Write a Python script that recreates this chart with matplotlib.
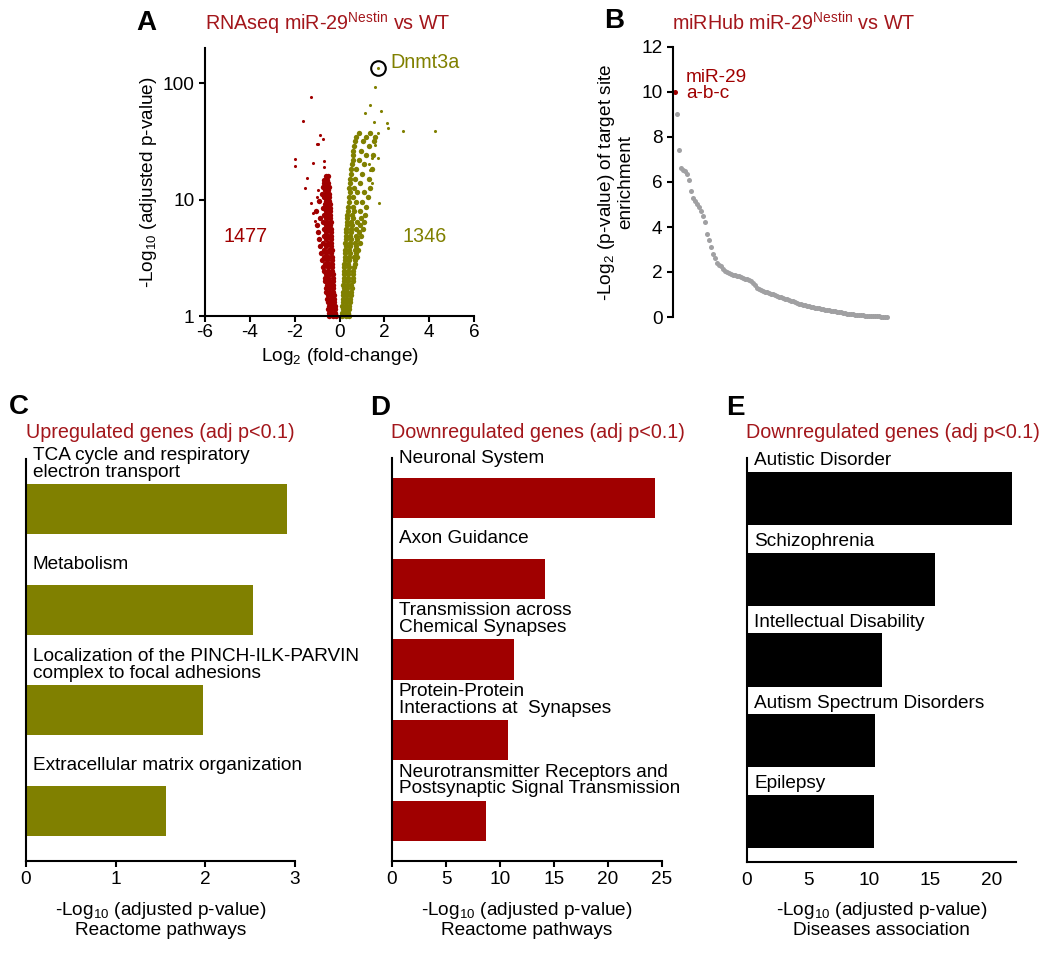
"""Multi-panel figure: volcano plot, miRHub enrichment and pathway bar charts."""

import matplotlib

matplotlib.use("Agg")

import matplotlib.pyplot as plt
import numpy as np

plt.rcParams["font.family"] = ["Liberation Sans", "DejaVu Sans"]
plt.rcParams["mathtext.fontset"] = "custom"
plt.rcParams["mathtext.rm"] = "Liberation Sans"
plt.rcParams["mathtext.it"] = "Liberation Sans:italic"
plt.rcParams["axes.linewidth"] = 1.5
plt.rcParams["axes.unicode_minus"] = False

RED = "#a00000"
OLIVE = "#808000"
GRAY = "#a0a0a2"
TITLE_RED = "#a3161b"

# ---- panel A: volcano plot, dense rows (y, [x values])
RED_ROWS = [
    (1.00, [-0.45, -0.30, -0.17]), (1.07, [-0.48, -0.33, -0.20]),
    (1.15, [-0.50, -0.36, -0.22]), (1.23, [-0.47, -0.32, -0.20]),
    (1.32, [-0.52, -0.38, -0.23]), (1.41, [-0.55, -0.40, -0.25]),
    (1.51, [-0.50, -0.36, -0.24]), (1.62, [-0.58, -0.42, -0.27]),
    (1.74, [-0.60, -0.45, -0.28]), (1.86, [-0.55, -0.40, -0.27]),
    (2.00, [-0.63, -0.47, -0.30]), (2.14, [-0.66, -0.50, -0.30]),
    (2.29, [-0.60, -0.44, -0.31]), (2.45, [-0.70, -0.52, -0.33]),
    (2.63, [-0.72, -0.50, -0.32]), (2.82, [-0.65, -0.46, -0.33]),
    (3.02, [-0.78, -0.55, -0.35]), (3.24, [-0.70, -0.50, -0.34]),
    (3.47, [-0.82, -0.58, -0.36]), (3.72, [-0.68, -0.48, -0.35]),
    (3.98, [-0.85, -0.60, -0.38]), (4.27, [-0.72, -0.52, -0.37]),
    (4.57, [-0.90, -0.62, -0.40]), (4.90, [-0.70, -0.50, -0.38]),
    (5.25, [-0.95, -0.60, -0.40]), (5.62, [-0.68, -0.52, -0.39]),
    (6.03, [-1.00, -0.62, -0.42]), (6.46, [-0.72, -0.55, -0.40]),
    (6.92, [-0.85, -0.60, -0.43]), (7.41, [-0.68, -0.50, -0.41]),
    (7.94, [-1.05, -0.62, -0.44]), (8.51, [-0.75, -0.55, -0.42]),
    (9.12, [-0.65, -0.50, -0.43]), (9.77, [-0.90, -0.60, -0.45]),
    (10.5, [-0.70, -0.55, -0.45]), (11.2, [-0.80, -0.60, -0.47]),
    (12.0, [-0.65, -0.52]), (12.9, [-0.75, -0.58, -0.48]),
    (13.8, [-0.68, -0.52]), (14.8, [-0.70, -0.55]), (15.8, [-0.62, -0.50]),
]
RED_SPARSE_X = [-1.27, -1.62, -0.87, -0.75, -1.02, -0.95, -2.0, -2.0, -1.17,
                -0.68, -0.69, -1.44, -1.54, -1.27, -1.17, -1.09, -0.95, -1.0]
RED_SPARSE_Y = [76, 47, 36, 33, 30, 30, 22.3, 19.5, 20.5,
                21.5, 19, 15.2, 12.5, 9.3, 7.6, 6.6, 12.0, 10.5]

OLIVE_ROWS = [
    (1.00, [0.12, 0.27, 0.42]), (1.07, [0.10, 0.25, 0.40]),
    (1.15, [0.14, 0.29, 0.44]), (1.23, [0.12, 0.27, 0.43]),
    (1.32, [0.16, 0.31, 0.46]), (1.41, [0.14, 0.30, 0.48]),
    (1.51, [0.17, 0.33, 0.50]), (1.62, [0.16, 0.32, 0.52]),
    (1.74, [0.18, 0.35, 0.55]), (1.86, [0.17, 0.34, 0.53]),
    (2.00, [0.20, 0.37, 0.58]), (2.14, [0.19, 0.36, 0.60]),
    (2.29, [0.21, 0.39, 0.62]), (2.45, [0.20, 0.38, 0.60]),
    (2.63, [0.22, 0.41, 0.66]), (2.82, [0.21, 0.40, 0.68]),
    (3.02, [0.24, 0.43, 0.70]), (3.24, [0.23, 0.42, 0.65, 0.78]),
    (3.47, [0.25, 0.45, 0.72]), (3.72, [0.24, 0.44, 0.68, 0.84]),
    (3.98, [0.27, 0.47, 0.75]), (4.27, [0.26, 0.46, 0.70, 0.90]),
    (4.57, [0.28, 0.50, 0.80]), (4.90, [0.28, 0.48, 0.72, 0.98]),
    (5.25, [0.30, 0.52, 0.85]), (5.62, [0.30, 0.50, 0.75, 1.05]),
    (6.03, [0.32, 0.55, 0.90]), (6.46, [0.32, 0.52, 0.78, 1.10]),
    (6.92, [0.35, 0.60, 0.95]), (7.41, [0.35, 0.55, 1.15]),
    (7.94, [0.38, 0.65, 0.90]), (8.70, [0.38, 0.60, 1.20]),
    (9.50, [0.42, 0.75, 1.00]), (10.5, [0.42, 0.62, 1.25]),
    (11.5, [0.45, 0.80, 1.10]), (12.6, [0.44, 0.65, 1.35]),
    (13.8, [0.47, 0.90]), (15.1, [0.48, 0.70, 1.30]),
    (16.6, [0.50, 1.00]), (18.2, [0.52, 0.75, 1.45]),
    (20.0, [0.55, 1.10]), (21.9, [0.58, 0.85]),
    (24.0, [0.60, 1.20, 1.50]), (26.3, [0.62, 0.95]),
    (28.8, [0.65, 1.30]), (31.6, [0.70, 1.05, 1.55]),
    (34.7, [0.75, 1.20, 1.60]), (37.2, [0.85, 1.35]),
]
OLIVE_SPARSE_X = [1.58, 1.36, 1.84, 1.14, 1.55, 2.10, 2.18, 2.85, 4.26, 1.70,
                  1.58, 1.44, 1.70, 1.44, 1.75, 1.30, 1.35]
OLIVE_SPARSE_Y = [93, 65, 57, 55.6, 46, 45, 41, 39, 39, 37,
                  29.4, 22.6, 22.6, 13.8, 9.3, 20, 18]
DNMT3A = (1.70, 135)
N_DOWN, N_UP = "1477", "1346"

# ---- panel B: miRHub ranking (rank 1 = miR-29 a-b-c)
MIR29_SCORE = 10.0
OTHER_SCORES = [
    9.0, 7.4, 6.6, 6.55, 6.5, 6.35, 6.1, 5.6, 5.3, 5.15, 5.0, 4.9, 4.7, 4.5,
    4.2, 3.7, 3.4, 3.1, 2.8, 2.6, 2.4, 2.3, 2.25, 2.15, 2.05, 2.0, 1.95, 1.9,
    1.88, 1.85, 1.82, 1.8, 1.77, 1.74, 1.7, 1.67, 1.64, 1.6, 1.5, 1.4, 1.3,
    1.25, 1.2, 1.17, 1.13, 1.1, 1.07, 1.04, 1.0, 0.97, 0.94, 0.91, 0.88, 0.85,
    0.82, 0.8, 0.77, 0.73, 0.7, 0.66, 0.62, 0.59, 0.57, 0.55, 0.52, 0.5, 0.48,
    0.46, 0.44, 0.42, 0.4, 0.38, 0.37, 0.35, 0.33, 0.31, 0.29, 0.28, 0.26,
    0.25, 0.23, 0.22, 0.2, 0.18, 0.17, 0.15, 0.14, 0.13, 0.12, 0.11, 0.1,
    0.09, 0.08, 0.07, 0.06, 0.05, 0.05, 0.04, 0.04, 0.03, 0.03, 0.03, 0.02,
    0.02, 0.02, 0.02,
]

# ---- panels C-E: enrichment bars
UP_PATHWAYS = ["TCA cycle and respiratory\nelectron transport", "Metabolism",
               "Localization of the PINCH-ILK-PARVIN\ncomplex to focal adhesions",
               "Extracellular matrix organization"]
UP_VALUES = [2.91, 2.53, 1.97, 1.56]

DOWN_PATHWAYS = ["Neuronal System", "Axon Guidance",
                 "Transmission across\nChemical Synapses",
                 "Protein-Protein\nInteractions at  Synapses",
                 "Neurotransmitter Receptors and\nPostsynaptic Signal Transmission"]
DOWN_VALUES = [24.35, 14.2, 11.3, 10.75, 8.7]

DISEASES = ["Autistic Disorder", "Schizophrenia", "Intellectual Disability",
            "Autism Spectrum Disorders", "Epilepsy"]
DISEASE_VALUES = [21.7, 15.35, 11.0, 10.5, 10.4]

W, H = 1050, 955
FS = 13.7


def px_axes(fig, x0, y0, x1, y1):
    """Add axes from pixel box (top-left origin)."""
    return fig.add_axes([x0 / W, 1 - y1 / H, (x1 - x0) / W, (y1 - y0) / H])


def fig_text(fig, x, y, s, **kw):
    fig.text(x / W, 1 - y / H, s, **kw)


def style_axes(ax):
    for side in ("top", "right"):
        ax.spines[side].set_visible(False)
    ax.tick_params(labelsize=FS, width=1.5, length=4)


def flatten(rows):
    xs, ys = [], []
    for y, row in rows:
        xs.extend(row)
        ys.extend([y] * len(row))
    return np.array(xs), np.array(ys)


def bar_panel(fig, box, labels, values, color, height, xmax, ticks,
              text_offset, xlabel, show_ticks=True):
    ax = px_axes(fig, *box)
    style_axes(ax)
    pos = np.arange(len(labels))
    ax.barh(pos, values, height=height, color=color)
    ax.set_ylim(len(labels) - 0.5, -0.5)
    ax.set_xlim(0, xmax)
    ax.set_yticks([])
    ax.set_xticks(ticks)
    if not show_ticks:
        ax.tick_params(axis="x", length=0, pad=7)
    for p, lab in zip(pos, labels):
        ax.annotate(lab, xy=(0, p - height / 2), xytext=(7, text_offset),
                    textcoords="offset pixels", ha="left", va="center",
                    fontsize=FS, linespacing=0.98, annotation_clip=False)
    ax.set_xlabel(xlabel, fontsize=FS, labelpad=8, linespacing=1.12)
    return ax


def main():
    fig = plt.figure(figsize=(W / 100, H / 100), dpi=100)

    # ---------------- A
    ax = px_axes(fig, 205, 48, 474, 316)
    style_axes(ax)
    rx, ry = flatten(RED_ROWS)
    gx, gy = flatten(OLIVE_ROWS)
    ax.scatter(rx, ry, s=15, color=RED, linewidths=0, clip_on=False)
    ax.scatter(gx, gy, s=15, color=OLIVE, linewidths=0, clip_on=False)
    ax.scatter(RED_SPARSE_X, RED_SPARSE_Y, s=5, color=RED, linewidths=0)
    ax.scatter(OLIVE_SPARSE_X, OLIVE_SPARSE_Y, s=5, color=OLIVE, linewidths=0)
    ax.scatter([DNMT3A[0]], [DNMT3A[1]], s=5, color=OLIVE, linewidths=0)
    ax.plot([DNMT3A[0]], [DNMT3A[1]], "o", ms=10.5, mfc="none", mec="black", mew=1.5)
    ax.text(2.28, 150, "Dnmt3a", color=OLIVE, fontsize=FS + 0.5, va="center")
    ax.text(-4.2, 4.8, N_DOWN, color=RED, fontsize=FS + 0.5, ha="center", va="center")
    ax.text(3.8, 4.8, N_UP, color=OLIVE, fontsize=FS + 0.5, ha="center", va="center")
    ax.set_yscale("log")
    ax.set_ylim(1, 200)
    ax.set_xlim(-6, 6)
    ax.set_xticks([-6, -4, -2, 0, 2, 4, 6])
    ax.set_yticks([1, 10, 100])
    ax.set_yticklabels(["1", "10", "100"])
    ax.minorticks_off()
    ax.tick_params(axis="x", pad=2)
    ax.set_xlabel("Log$_2$ (fold-change)", fontsize=FS, labelpad=3)
    ax.set_ylabel("-Log$_{10}$ (adjusted p-value)", fontsize=FS, labelpad=3)

    # ---------------- B
    ax = px_axes(fig, 673, 47, 893, 317)
    for side in ("top", "right", "bottom"):
        ax.spines[side].set_visible(False)
    ranks = np.arange(2, len(OTHER_SCORES) + 2)
    ax.scatter(ranks, OTHER_SCORES, s=13, color=GRAY, linewidths=0, clip_on=False)
    ax.scatter([1], [MIR29_SCORE], s=13, color=RED, linewidths=0, clip_on=False)
    ax.text(6.5, 10.3, "miR-29\na-b-c", color=RED, fontsize=FS, va="center",
            linespacing=0.95)
    ax.set_xlim(0, 110)
    ax.set_ylim(0, 12)
    ax.set_xticks([])
    ax.set_yticks(range(0, 13, 2))
    ax.tick_params(labelsize=FS, width=1.5, length=4)
    ax.set_ylabel("-Log$_2$ (p-value) of target site\nenrichment", fontsize=FS,
                  labelpad=5, linespacing=1.05)

    # ---------------- C, D, E
    xl = "-Log$_{10}$ (adjusted p-value)\n"
    bar_panel(fig, (26, 459, 295, 861), UP_PATHWAYS, UP_VALUES, OLIVE, 0.5, 3,
              [0, 1, 2, 3], 20, xl + "Reactome pathways")
    bar_panel(fig, (392, 458, 662, 861), DOWN_PATHWAYS, DOWN_VALUES, RED, 0.5, 25,
              [0, 5, 10, 15, 20, 25], 20, xl + "Reactome pathways")
    bar_panel(fig, (747, 458, 1016, 862), DISEASES, DISEASE_VALUES, "black", 0.66, 22,
              [0, 5, 10, 15, 20], 11, xl + "Diseases association", show_ticks=False)

    # ---------------- letters and titles
    bold = dict(fontsize=20, fontweight="bold", va="center", ha="left")
    fig_text(fig, 136, 23, "A", **bold)
    fig_text(fig, 604, 21, "B", **bold)
    fig_text(fig, 9, 407, "C", **bold)
    fig_text(fig, 370, 408, "D", **bold)
    fig_text(fig, 726, 408, "E", **bold)

    tt = dict(fontsize=FS + 0.5, color=TITLE_RED, va="center", ha="left")
    fig_text(fig, 205, 23, r"RNAseq miR-29$^{\mathregular{Nestin}}$ vs WT", **tt)
    fig_text(fig, 672, 23, r"miRHub miR-29$^{\mathregular{Nestin}}$ vs WT", **tt)
    fig_text(fig, 26, 433, "Upregulated genes (adj p<0.1)", **tt)
    fig_text(fig, 391, 433, "Downregulated genes (adj p<0.1)", **tt)
    fig_text(fig, 746, 433, "Downregulated genes (adj p<0.1)", **tt)

    fig.savefig("out.png", dpi=100)
    plt.close(fig)


if __name__ == "__main__":
    main()
